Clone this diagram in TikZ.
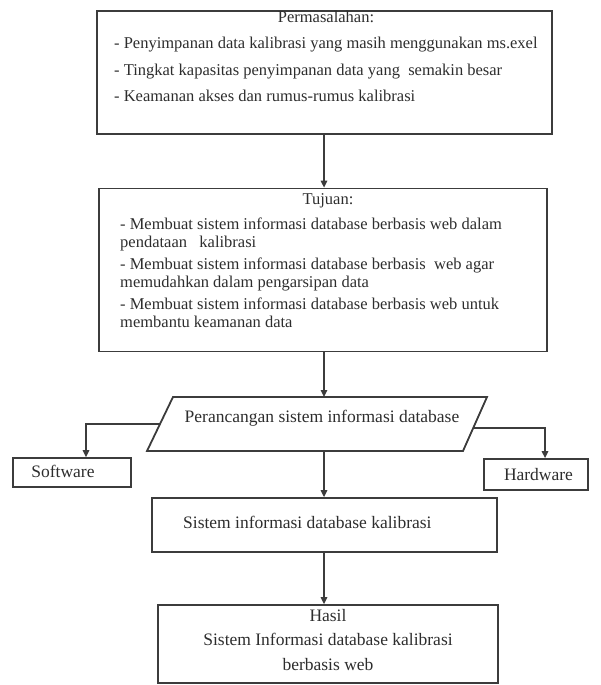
\documentclass[tikz,border=0pt]{standalone}
\usepackage{fontspec}
\setmainfont{Liberation Serif}
\usetikzlibrary{arrows.meta}
\definecolor{lc}{RGB}{60,60,60}
\definecolor{tc}{RGB}{45,45,45}
\begin{document}
\begin{tikzpicture}[x=1pt,y=-1pt,
  box/.style={draw=lc,line width=1.8pt,inner sep=0pt},
  txt/.style={font=\fontsize{16.5}{18}\selectfont,text=tc,inner sep=0pt,text height=11pt,text depth=3.5pt},
  txtb/.style={font=\fontsize{17.5}{19}\selectfont,text=tc,inner sep=0pt,text height=12pt,text depth=4pt},
  arr/.style={draw=lc,line width=1.4pt,-{Triangle[length=7pt,width=6.5pt]}}]
\useasboundingbox (0,0) rectangle (600,685);

% Box 1: Permasalahan
\node[box,minimum width=455pt,minimum height=123pt] (b1) at (324.5,72.5) {};
\node[txt] (t1h) at (326,19) {Permasalahan:};
\node[txt,anchor=west] (t11) at (114,45) {- Penyimpanan data kalibrasi yang masih menggunakan ms.exel};
\node[txt,anchor=west] (t12) at (114,72) {- Tingkat kapasitas penyimpanan data yang\ \ semakin besar};
\node[txt,anchor=west] (t13) at (114,98) {- Keamanan akses dan rumus-rumus kalibrasi};

% Box 2: Tujuan
\node[box,minimum width=448pt,minimum height=163pt] (b2) at (323,270) {};
\node[txt] (t2h) at (328,201) {Tujuan:};
\node[txt,anchor=west] (t21) at (120,226) {- Membuat sistem informasi database berbasis web dalam};
\node[txt,anchor=west] (t22) at (120,244) {pendataan\ \ \ kalibrasi};
\node[txt,anchor=west] (t23) at (120,266) {- Membuat sistem informasi database berbasis\ \ web agar};
\node[txt,anchor=west] (t24) at (120,284) {memudahkan dalam pengarsipan data};
\node[txt,anchor=west] (t25) at (120,306) {- Membuat sistem informasi database berbasis web untuk};
\node[txt,anchor=west] (t26) at (120,324) {membantu keamanan data};

% Parallelogram
\coordinate (pTL) at (173,397);
\coordinate (pTR) at (487,397);
\coordinate (pBR) at (463,451);
\coordinate (pBL) at (147,451);
\draw[draw=lc,line width=1.8pt,line join=miter] (pTL) -- (pTR) -- (pBR) -- (pBL) -- cycle;
\node[txtb] (pt) at (322,418) {Perancangan sistem informasi database};
\coordinate (pL) at (160,424);
\coordinate (pR) at (474,428);
\coordinate (pTop) at (324,397);
\coordinate (pBot) at (324,451);

% Software / Hardware
\node[box,minimum width=118pt,minimum height=29pt] (sw) at (72,472.5) {};
\node[txtb] (swt) at (63,473) {Software};
\node[box,minimum width=104pt,minimum height=31pt] (hw) at (536,474.5) {};
\node[txtb] (hwt) at (538.5,476) {Hardware};

% Box 4
\node[box,minimum width=345pt,minimum height=54pt] (b4) at (324.5,525) {};
\node[txtb,anchor=west] (t4) at (183,524) {Sistem informasi database kalibrasi};

% Box 5: Hasil
\node[box,minimum width=340pt,minimum height=78pt] (b5) at (328,644) {};
\node[txtb] (t5a) at (328,617) {Hasil};
\node[txtb] (t5b) at (328,641) {Sistem Informasi database kalibrasi};
\node[txtb] (t5c) at (328,666) {berbasis web};

% Connectors
\draw[arr] (b1.south -| pTop) -- (b2.north -| pTop);
\draw[arr] (b2.south -| pTop) -- (pTop);
\draw[arr] (pBot) -- (b4.north -| pBot);
\draw[arr] (b4.south -| pBot) -- (b5.north -| pBot);
\draw[arr] (pL) -| ([xshift=14pt]sw.north);
\draw[arr] (pR) -| ([xshift=9pt]hw.north);
\end{tikzpicture}
\end{document}
